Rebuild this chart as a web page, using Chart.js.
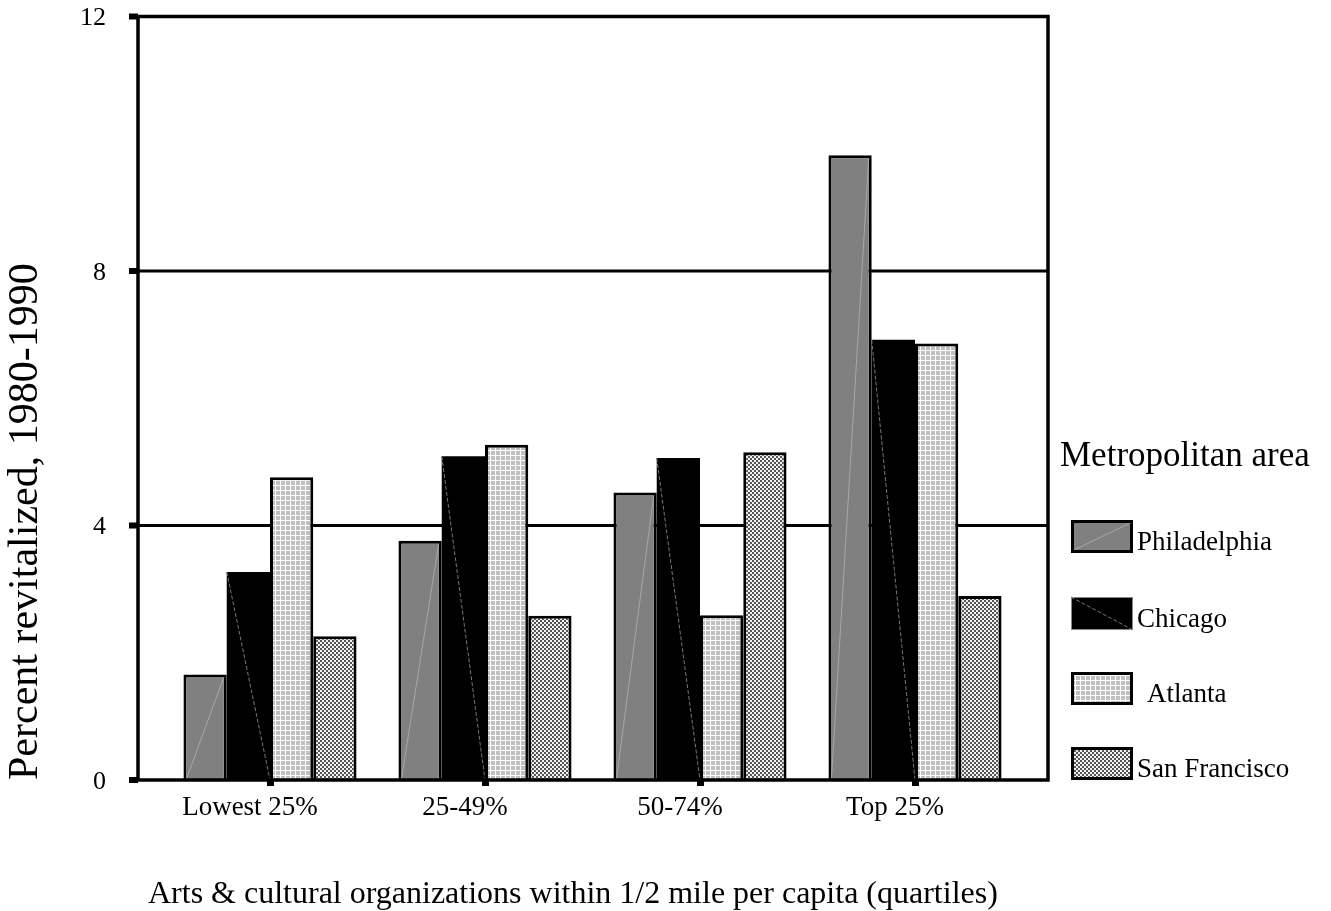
<!DOCTYPE html>
<html><head><meta charset="utf-8">
<script src="https://cdn.jsdelivr.net/npm/chart.js@4/dist/chart.umd.min.js"></script>
<style>html,body{margin:0;padding:0;background:#fff;overflow:hidden}</style>
</head><body>
<canvas id="c" width="1331" height="911" style="width:1331px;height:911px;display:block"></canvas>
<script>
const categories = ['Lowest 25%', '25-49%', '50-74%', 'Top 25%'];
const seriesNames = ['Philadelphia', 'Chicago', 'Atlanta', 'San Francisco'];
const philadelphia = [1.66, 3.76, 4.52, 9.82];
const chicago = [3.27, 5.09, 5.06, 6.92];
const atlanta = [4.76, 5.27, 2.59, 6.86];
const sanFrancisco = [2.26, 2.58, 5.15, 2.89];
const yTicks = [0, 4, 8, 12];
const xTitle = 'Arts & cultural organizations within 1/2 mile per capita (quartiles)';
const yTitle = 'Percent revitalized, 1980-1990';
const legendTitle = 'Metropolitan area';

const FONT = "'Liberation Serif', 'Times New Roman', serif";
const canvas = document.getElementById('c');
const ctx = canvas.getContext('2d');

function makeTile(w, h, draw) {
  const t = document.createElement('canvas');
  t.width = w; t.height = h;
  draw(t.getContext('2d'));
  return ctx.createPattern(t, 'repeat');
}
const gridPattern = makeTile(5, 5, g => {
  g.fillStyle = '#c0c0c0'; g.fillRect(0, 0, 5, 5);
  g.fillStyle = '#ffffff'; g.fillRect(0, 0, 5, 1); g.fillRect(0, 0, 1, 5);
});
const checkPattern = makeTile(4, 4, g => {
  g.fillStyle = '#f2f2f2'; g.fillRect(0, 0, 4, 4);
  g.fillStyle = '#555555'; g.fillRect(0, 0, 2, 2); g.fillRect(2, 2, 2, 2);
});

const FRAME_LEFT_EXT = 24.5, FRAME_RIGHT_EXT = 25.5;

const framePlugin = {
  id: 'frame',
  beforeDatasetsDraw(chart) {
    const {ctx, chartArea: a, scales: {y}} = chart;
    const L = a.left - FRAME_LEFT_EXT, R = a.right + FRAME_RIGHT_EXT;
    ctx.save();
    ctx.strokeStyle = '#000'; ctx.lineWidth = 3;
    yTicks.forEach(v => {
      if (v === 0 || v === 12) return;
      const py = y.getPixelForValue(v);
      ctx.beginPath(); ctx.moveTo(L, py); ctx.lineTo(R, py); ctx.stroke();
    });
    ctx.restore();
  },
  afterDatasetsDraw(chart) {
    const {ctx, chartArea: a, scales: {y}} = chart;
    const L = a.left - FRAME_LEFT_EXT, R = a.right + FRAME_RIGHT_EXT;
    ctx.save();
    chart.getDatasetMeta(0).data.forEach(b => {
      const p = b.getProps(['x', 'y', 'base', 'width'], true);
      ctx.strokeStyle = '#a8a8a8'; ctx.lineWidth = 1;
      ctx.beginPath(); ctx.moveTo(p.x - p.width / 2 + 3, p.base - 1); ctx.lineTo(p.x + p.width / 2 - 3, p.y + 3); ctx.stroke();
    });
    chart.getDatasetMeta(1).data.forEach(b => {
      const p = b.getProps(['x', 'y', 'base', 'width'], true);
      ctx.strokeStyle = '#777'; ctx.lineWidth = 1; ctx.setLineDash([4, 2]);
      ctx.beginPath(); ctx.moveTo(p.x - p.width / 2, p.y); ctx.lineTo(p.x + p.width / 2, p.base); ctx.stroke();
    });
    ctx.setLineDash([]);
    ctx.restore();
    ctx.save();
    ctx.strokeStyle = '#000'; ctx.lineWidth = 3.5;
    ctx.strokeRect(L, a.top, R - L, a.bottom - a.top);
    ctx.fillStyle = '#000';
    yTicks.forEach(v => {
      const py = y.getPixelForValue(v);
      ctx.fillRect(L - 9, py - 3, 9, 6);
    });
    ctx.restore();
  }
};

const legendPlugin = {
  id: 'customLegend',
  afterDraw(chart) {
    const {ctx} = chart;
    ctx.save();
    ctx.fillStyle = '#000';
    ctx.textBaseline = 'alphabetic';
    ctx.font = '32px ' + FONT;
    ctx.textAlign = 'left';
    ctx.fillText(xTitle, 148, 903);
    ctx.font = '35px ' + FONT;
    ctx.fillText(legendTitle, 1060, 466);
    const boxX = 1071, boxW = 62, boxH = 33;
    const tops = [520, 597, 672, 747];
    const textDx = [0, 0, 10, 0];
    chart.data.datasets.forEach((ds, i) => {
      const top = tops[i];
      ctx.fillStyle = ds.backgroundColor;
      ctx.fillRect(boxX, top, boxW, boxH);
      if (i === 0) {
        ctx.strokeStyle = '#a8a8a8'; ctx.lineWidth = 1;
        ctx.beginPath(); ctx.moveTo(boxX + 3, top + boxH - 3); ctx.lineTo(boxX + boxW - 3, top + 3); ctx.stroke();
      }
      if (i === 1) {
        ctx.strokeStyle = '#777'; ctx.lineWidth = 1; ctx.setLineDash([4, 2]);
        ctx.beginPath(); ctx.moveTo(boxX, top); ctx.lineTo(boxX + boxW, top + boxH); ctx.stroke();
        ctx.setLineDash([]);
        ctx.strokeStyle = '#888'; ctx.lineWidth = 1;
        ctx.strokeRect(boxX + 0.5, top + 0.5, boxW - 1, boxH - 1);
      } else {
        ctx.strokeStyle = '#000'; ctx.lineWidth = 3;
        ctx.strokeRect(boxX + 1.5, top + 1.5, boxW - 3, boxH - 3);
      }
      ctx.fillStyle = '#000';
      ctx.font = '27px ' + FONT;
      ctx.fillText(ds.label, 1137 + textDx[i], top + boxH - 3);
    });
    ctx.restore();
  }
};

new Chart(ctx, {
  type: 'bar',
  data: {
    labels: categories,
    datasets: [
      {label: seriesNames[0], data: philadelphia, backgroundColor: '#808080', borderColor: '#000', borderWidth: 3},
      {label: seriesNames[1], data: chicago, backgroundColor: '#000000', borderColor: '#000', borderWidth: 0},
      {label: seriesNames[2], data: atlanta, backgroundColor: gridPattern, borderColor: '#000', borderWidth: 3},
      {label: seriesNames[3], data: sanFrancisco, backgroundColor: checkPattern, borderColor: '#000', borderWidth: 3}
    ]
  },
  options: {
    responsive: false,
    animation: false,
    devicePixelRatio: 1,
    layout: {padding: {left: 0, right: 308.5, top: 16.5, bottom: 0}},
    plugins: {legend: {display: false}, tooltip: {enabled: false}, title: {display: false}},
    datasets: {bar: {categoryPercentage: 0.805, barPercentage: 1}},
    scales: {
      x: {
        offset: true,
        grid: {display: true, drawOnChartArea: false, drawTicks: true, tickLength: 6, tickWidth: 7, tickColor: '#000', offset: false},
        border: {display: false},
        ticks: {font: {family: FONT, size: 27}, color: '#000', padding: 6, labelOffset: -20, maxRotation: 0, autoSkip: false},
        title: {display: false},
        afterFit(s) { s.height = 131; }
      },
      y: {
        min: 0, max: 12,
        afterBuildTicks(s) { s.ticks = yTicks.map(v => ({value: v})); },
        grid: {display: false, drawTicks: false},
        border: {display: false},
        ticks: {font: {family: FONT, size: 26}, color: '#000', padding: 56.5, labelOffset: 2},
        title: {display: true, text: yTitle, align: 'start', color: '#000', font: {family: FONT, size: 42}, padding: {top: 1, bottom: 0}},
        afterFit(s) { s.width = 162.5; s.paddingTop = 0; s.paddingBottom = 0; }
      }
    }
  },
  plugins: [framePlugin, legendPlugin]
});
</script>
</body></html>
